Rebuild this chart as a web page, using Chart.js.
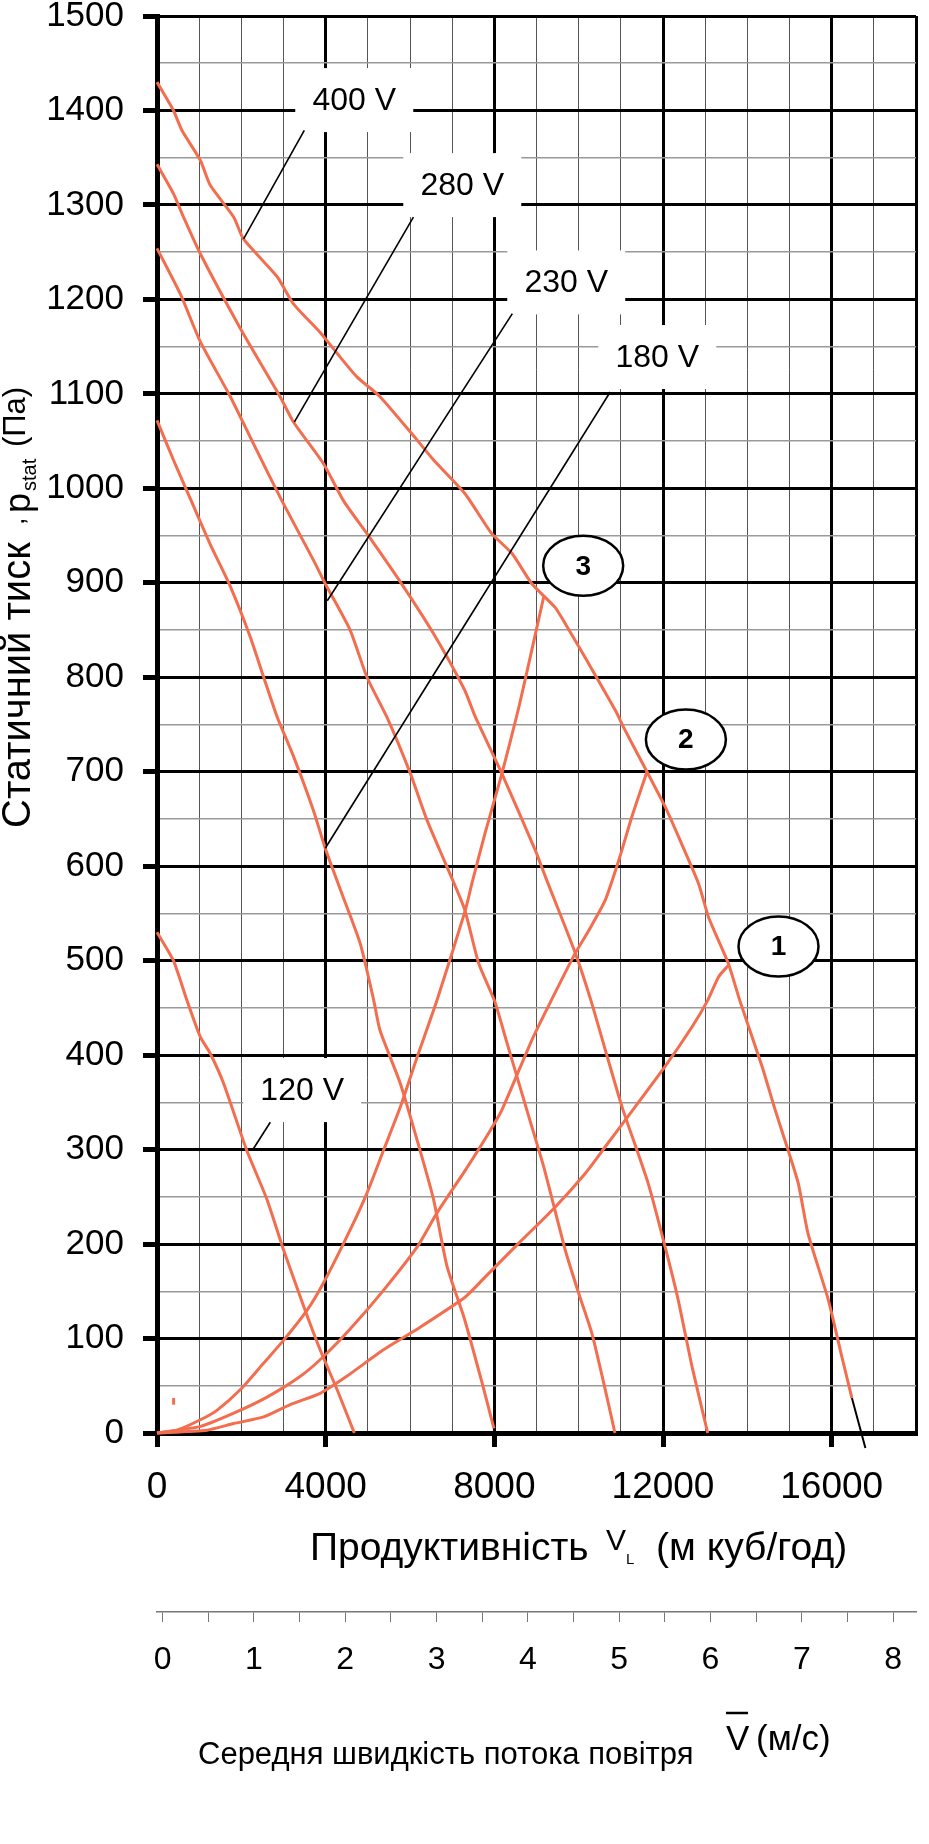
<!DOCTYPE html>
<html>
<head>
<meta charset="utf-8">
<script src="https://cdn.jsdelivr.net/npm/chart.js@4.4.0/dist/chart.umd.min.js"></script>
<style>
  html, body { margin: 0; padding: 0; background: #fff; }
  #wrap { width: 929px; height: 1844px; }
</style>
</head>
<body>
<div id="wrap"><canvas id="chart" width="929" height="1844"></canvas></div>
<script>
// fan curves: flow (m3/h) and static pressure (Pa)
const flow400 = [0, 390, 590, 1030, 1260, 1820, 2050, 2850, 3240, 3870, 4270, 4740, 5290, 6170, 6560, 7310, 7940, 8420, 8890, 9440, 9680, 10230, 10870, 11100, 11620, 12050, 12370, 12840, 13080, 13550, 13820, 14350, 14660, 14970, 15210, 15440, 15920, 16240, 16480];
const pres400 = [1430, 1400, 1379, 1347, 1321, 1287, 1264, 1224, 1195, 1165, 1143, 1118, 1097, 1051, 1030, 994, 952, 931, 899, 874, 857, 815, 765, 744, 700, 663, 631, 582, 546, 497, 458, 388, 342, 299, 264, 211, 141, 81, 37];
const flow280 = [0, 390, 630, 1030, 1980, 2920, 3240, 3950, 4420, 4980, 5770, 6560, 7290, 7550, 8180, 8970, 9210, 9920, 10290, 10700, 11030, 11650, 12050, 12360, 12690, 13060];
const pres280 = [1343, 1312, 1287, 1248, 1169, 1097, 1070, 1026, 987, 952, 901, 846, 787, 758, 698, 617, 589, 508, 458, 395, 345, 264, 197, 141, 70, 0];
const flow230 = [0, 550, 1030, 1740, 2290, 2960, 3710, 3990, 4580, 4980, 5450, 6010, 6400, 6880, 7290, 7630, 8000, 8300, 8770, 9170, 9680, 10000, 10310, 10630, 10860];
const pres230 = [1254, 1206, 1155, 1097, 1047, 987, 924, 899, 850, 800, 758, 698, 649, 599, 555, 497, 458, 413, 342, 282, 194, 148, 106, 46, 0];
const flow180 = [0, 390, 810, 1260, 1740, 2210, 2530, 2850, 3240, 3710, 3990, 4350, 4820, 5140, 5290, 5770, 6240, 6560, 6880, 7290, 7710, 7990];
const pres180 = [1072, 1030, 987, 941, 896, 843, 800, 758, 716, 659, 619, 575, 518, 458, 426, 370, 299, 247, 176, 121, 53, 5];
const flow120 = [0, 390, 710, 1030, 1260, 1580, 2130, 2610, 3000, 3480, 3870, 4270, 4680];
const pres120 = [530, 500, 458, 419, 402, 370, 299, 247, 194, 134, 88, 46, 0];
// black tail at the end of the 400 V curve
const tailFlow = [16480, 16800];
const tailPres = [37, -16];
// little stray mark near the origin
const dotFlow = [394, 394];
const dotPres = [30, 37];

// system curves 1, 2, 3
const flowSys1 = [0, 1190, 1820, 2530, 3160, 3870, 4500, 5370, 6240, 7310, 7780, 8580, 9440, 10160, 10630, 11100, 12050, 12690, 13060, 13320, 13550];
const presSys1 = [0, 3, 10, 17, 30, 42, 60, 88, 112, 144, 165, 201, 239, 275, 303, 331, 388, 430, 458, 483, 495];
const flowSys2 = [0, 1030, 1820, 2610, 3400, 3950, 4580, 5370, 6170, 6640, 7310, 7860, 8180, 8890, 9350, 9920, 10240, 10630, 10950, 11260, 11620];
const presSys2 = [0, 7, 21, 38, 60, 81, 110, 151, 197, 233, 278, 317, 342, 416, 458, 508, 532, 564, 606, 652, 700];
const flowSys3 = [0, 470, 1030, 1420, 1980, 2530, 3000, 3560, 3950, 4580, 4980, 5370, 5770, 6170, 6640, 7310, 7470, 7780, 8180, 8580, 8890, 9170];
const presSys3 = [0, 3, 14, 24, 46, 74, 98, 130, 159, 215, 254, 299, 345, 398, 458, 553, 582, 635, 698, 768, 829, 885];

// tick labels
const flowTicks = [0, 4000, 8000, 12000, 16000];
const speedTicks = [0, 1, 2, 3, 4, 5, 6, 7, 8];

// annotations
const voltNames = ['400 V', '280 V', '230 V', '180 V', '120 V'];
const voltAt = [[4678, 1411], [7239, 1321], [9705, 1218], [11863, 1139], [3443, 363]];
const leaderFrom = [[3493, 1379], [6081, 1287], [8427, 1185], [10748, 1102], [2687, 329]];
const leaderTo = [[2054, 1264], [3256, 1070], [4038, 881], [3990, 619], [2260, 299]];
const sysNames = ['1', '2', '3'];
const sysAt = [[14739, 515], [12543, 734], [10107, 918]];

const ORANGE = '#f36d4f';
const FONT = '"Liberation Sans", Arial, sans-serif';
Chart.defaults.font.family = FONT;

function pts(xs, ys) {
  return xs.map((x, i) => ({ x: x, y: ys[i] }));
}
function curve(xs, ys, color, width) {
  return {
    data: pts(xs, ys),
    borderColor: color || ORANGE,
    borderWidth: width || 3,
    pointRadius: 0,
    tension: 0.2,
    fill: false,
    clip: false
  };
}
// no extra room for half tick labels, the plot box is fixed
function noPad(s) {
  s.paddingTop = 0;
  s.paddingBottom = 0;
  s.paddingLeft = 0;
  s.paddingRight = 0;
}

const overlay = {
  id: 'overlay',
  beforeDatasetsDraw(chart) {
    const { ctx, scales: { x, y } } = chart;
    ctx.save();
    ctx.fillStyle = '#fff';
    voltAt.forEach(p => {
      const cx = x.getPixelForValue(p[0]);
      const cy = y.getPixelForValue(p[1]);
      ctx.fillRect(cx - 59, cy - 32, 118, 64);
    });
    ctx.restore();
  },
  afterDatasetsDraw(chart) {
    const { ctx, scales: { x, y } } = chart;
    ctx.save();
    ctx.strokeStyle = '#000';
    ctx.lineWidth = 1.6;
    for (let i = 0; i < leaderFrom.length; i++) {
      ctx.beginPath();
      ctx.moveTo(x.getPixelForValue(leaderFrom[i][0]), y.getPixelForValue(leaderFrom[i][1]));
      ctx.lineTo(x.getPixelForValue(leaderTo[i][0]), y.getPixelForValue(leaderTo[i][1]));
      ctx.stroke();
    }
    ctx.fillStyle = '#000';
    ctx.textAlign = 'center';
    ctx.textBaseline = 'middle';
    ctx.font = '32px ' + FONT;
    voltNames.forEach((t, i) => {
      ctx.fillText(t, x.getPixelForValue(voltAt[i][0]), y.getPixelForValue(voltAt[i][1]) + 1);
    });
    ctx.lineWidth = 2.5;
    ctx.font = 'bold 28px ' + FONT;
    sysNames.forEach((t, i) => {
      const cx = x.getPixelForValue(sysAt[i][0]);
      const cy = y.getPixelForValue(sysAt[i][1]);
      ctx.beginPath();
      ctx.ellipse(cx, cy, 40, 30, 0, 0, Math.PI * 2);
      ctx.fillStyle = '#fff';
      ctx.fill();
      ctx.stroke();
      ctx.fillStyle = '#000';
      ctx.fillText(t, cx, cy + 1);
    });
    ctx.restore();
  },
  afterDraw(chart) {
    const ctx = chart.ctx;
    ctx.save();
    ctx.fillStyle = '#000';
    ctx.textAlign = 'left';
    ctx.textBaseline = 'alphabetic';

    // y axis title, rotated
    ctx.save();
    ctx.translate(30, 828);
    ctx.rotate(-Math.PI / 2);
    ctx.font = '40px ' + FONT;
    ctx.fillText('Статичний тиск', 0, 0);
    ctx.font = '26px ' + FONT;
    ctx.fillText(',', 303, -6);
    ctx.font = '36px ' + FONT;
    ctx.fillText('p', 315, 0);
    ctx.font = '20px ' + FONT;
    ctx.fillText('stat', 337, 6);
    ctx.font = '31px ' + FONT;
    ctx.fillText('(Па)', 381, -5);
    ctx.restore();

    // flow title
    ctx.font = '39px ' + FONT;
    ctx.fillText('Продуктивність', 310, 1560);
    ctx.font = '30px ' + FONT;
    ctx.fillText('V', 606, 1550);
    ctx.font = '15px ' + FONT;
    ctx.fillText('L', 626, 1564);
    ctx.font = '39px ' + FONT;
    ctx.fillText('(м куб/год)', 656, 1560);

    // air speed title
    ctx.font = '31px ' + FONT;
    ctx.fillText('Середня швидкість потока повітря', 198, 1764);
    ctx.font = '35px ' + FONT;
    ctx.fillText('V', 726, 1750);
    ctx.fillText('(м/с)', 756, 1750);
    ctx.lineWidth = 2.5;
    ctx.strokeStyle = '#000';
    ctx.beginPath();
    ctx.moveTo(726, 1713);
    ctx.lineTo(748, 1713);
    ctx.stroke();
    ctx.restore();
  }
};

new Chart(document.getElementById('chart'), {
  type: 'line',
  data: {
    datasets: [
      curve(flow400, pres400),
      curve(flow280, pres280),
      curve(flow230, pres230),
      curve(flow180, pres180),
      curve(flow120, pres120),
      curve(flowSys1, presSys1),
      curve(flowSys2, presSys2),
      curve(flowSys3, presSys3),
      curve(tailFlow, tailPres, '#000', 2),
      curve(dotFlow, dotPres, ORANGE, 3)
    ]
  },
  options: {
    responsive: false,
    animation: false,
    layout: { autoPadding: false, padding: { top: 16, right: 13, left: 0, bottom: 0 } },
    plugins: { legend: { display: false }, tooltip: { enabled: false } },
    scales: {
      x: {
        type: 'linear', position: 'bottom', weight: 0, min: 0, max: 18000,
        ticks: {
          stepSize: 1000, autoSkip: false, maxRotation: 0, padding: 19, color: '#000',
          font: { size: 37 },
          callback: v => flowTicks.includes(v) ? String(v) : ''
        },
        grid: {
          color: c => (c.tick && (c.tick.value % 4000 === 0 || c.tick.value === 18000)) ? '#000' : '#555',
          lineWidth: c => (c.tick && (c.tick.value % 4000 === 0 || c.tick.value === 18000)) ? 3 : 1,
          tickLength: 14,
          tickWidth: 5,
          tickColor: c => (c.tick && flowTicks.includes(c.tick.value)) ? '#000' : 'rgba(0,0,0,0)'
        },
        border: { color: '#000', width: 5 },
        afterFit: s => { s.height = 179; noPad(s); }
      },
      x2: {
        type: 'linear', position: 'bottom', weight: 1, min: -0.061, max: 8.25,
        ticks: {
          stepSize: 0.5, includeBounds: false, autoSkip: false, maxRotation: 0, padding: 19, color: '#000',
          font: { size: 32 },
          callback: v => speedTicks.includes(v) ? String(v) : ''
        },
        grid: { drawOnChartArea: false, color: '#777', lineWidth: 1, tickLength: 10 },
        border: { color: '#777', width: 1.5 },
        afterFit: s => { s.height = 232; noPad(s); }
      },
      y: {
        type: 'linear', min: 0, max: 1500,
        ticks: {
          stepSize: 50, autoSkip: false, padding: 19, color: '#000',
          font: { size: 35 },
          callback: v => v % 100 === 0 ? String(v) : ''
        },
        grid: {
          color: c => (c.tick && c.tick.value % 100 === 0) ? '#000' : '#999',
          lineWidth: c => (c.tick && c.tick.value % 100 === 0) ? 3 : 1.5,
          tickLength: 14,
          tickWidth: 5,
          tickColor: c => (c.tick && c.tick.value % 100 === 0) ? '#000' : 'rgba(0,0,0,0)'
        },
        border: { color: '#000', width: 5 },
        afterFit: s => { s.width = 157; noPad(s); }
      }
    }
  },
  plugins: [overlay]
});
</script>
</body>
</html>
